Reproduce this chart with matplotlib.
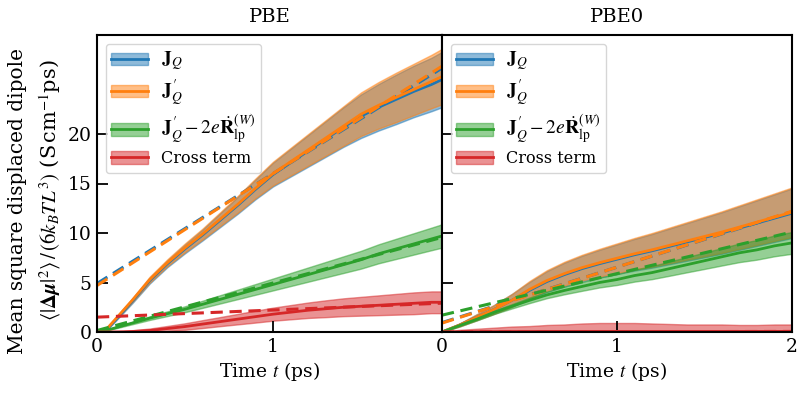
import matplotlib
matplotlib.use("Agg")
import matplotlib.pyplot as plt
from matplotlib.lines import Line2D
from matplotlib.patches import Patch
from matplotlib.legend_handler import HandlerTuple
import numpy as np

plt.rcParams['font.family'] = ['DejaVu Serif']
plt.rcParams['mathtext.fontset'] = 'stix'

# ---------------- PBE (left) ----------------
t_pbe = [0, 0.05, 0.1, 0.15, 0.2, 0.3, 0.4, 0.5, 0.6, 0.7, 0.8, 0.9, 1.0,
         1.1, 1.2, 1.3, 1.4, 1.5, 1.6, 1.7, 1.8, 1.9, 1.96]
jq_pbe = [0, 0.15, 1.1, 2.1, 3.1, 5.2, 6.9, 8.4, 9.8, 11.3, 12.8, 14.4, 15.9,
          17.1, 18.3, 19.5, 20.7, 21.8, 22.7, 23.5, 24.3, 25.0, 25.5]
jqp_pbe = [0, 0.2, 1.2, 2.2, 3.2, 5.3, 7.0, 8.5, 9.9, 11.4, 12.9, 14.5, 16.0,
           17.2, 18.4, 19.6, 20.8, 22.0, 22.9, 23.7, 24.5, 25.3, 25.8]
jq_band_pbe = [0, 0.05, 0.1, 0.15, 0.2, 0.3, 0.35, 0.45, 0.55, 0.7, 0.85, 1.0, 1.2,
               1.4, 1.6, 1.8, 2.0, 2.2, 2.35, 2.5, 2.6, 2.7, 2.8]
gr_pbe = [0, 0.15, 0.4, 0.65, 0.9, 1.4, 1.85, 2.3, 2.8, 3.3, 3.8, 4.3, 4.8,
          5.3, 5.8, 6.3, 6.8, 7.3, 7.9, 8.4, 8.9, 9.4, 9.7]
gr_band_pbe = [0, 0.03, 0.06, 0.09, 0.12, 0.18, 0.24, 0.3, 0.36, 0.42, 0.48, 0.54, 0.6,
               0.66, 0.72, 0.78, 0.84, 0.9, 0.96, 1.02, 1.08, 1.14, 1.18]
cr_pbe = [0, 0.0, 0.01, 0.02, 0.05, 0.15, 0.35, 0.55, 0.8, 1.05, 1.3, 1.55, 1.8,
          2.0, 2.2, 2.35, 2.5, 2.6, 2.7, 2.8, 2.9, 3.0, 3.0]
cr_band_pbe = [0, 0.03, 0.06, 0.1, 0.13, 0.2, 0.26, 0.33, 0.4, 0.46, 0.53, 0.6, 0.66,
               0.72, 0.78, 0.85, 0.9, 0.95, 1.0, 1.05, 1.1, 1.1, 1.1]
# linear fits: (intercept, slope)
fit_pbe = {'jq': (4.9, 11.1), 'jqp': (4.7, 11.3), 'gr': (0.15, 4.8), 'cr': (1.5, 0.72)}

# ---------------- PBE0 (right) ----------------
t_pbe0 = [0, 0.1, 0.2, 0.3, 0.4, 0.5, 0.6, 0.7, 0.8, 0.9, 1.0,
          1.1, 1.2, 1.3, 1.4, 1.5, 1.6, 1.7, 1.8, 1.9, 2.0]
jq_pbe0 = [0, 0.7, 1.5, 2.3, 3.2, 4.2, 5.1, 5.8, 6.4, 6.9, 7.35,
           7.8, 8.2, 8.65, 9.1, 9.55, 10.0, 10.5, 11.0, 11.5, 12.0]
jqp_pbe0 = [0, 0.7, 1.5, 2.3, 3.2, 4.3, 5.2, 5.9, 6.5, 7.0, 7.45,
            7.9, 8.3, 8.75, 9.2, 9.65, 10.1, 10.6, 11.1, 11.6, 12.1]
jq_band_pbe0 = [0, 0.15, 0.3, 0.45, 0.65, 0.85, 1.05, 1.2, 1.3, 1.4, 1.5,
                1.6, 1.7, 1.8, 1.9, 2.0, 2.1, 2.2, 2.3, 2.4, 2.5]
gr_pbe0 = [0, 0.65, 1.3, 2.0, 2.6, 3.2, 3.75, 4.2, 4.6, 5.0, 5.3,
           5.7, 6.0, 6.4, 6.8, 7.2, 7.6, 8.0, 8.3, 8.7, 9.0]
gr_band_pbe0 = [0, 0.06, 0.12, 0.17, 0.22, 0.28, 0.33, 0.39, 0.44, 0.5, 0.55,
                0.61, 0.66, 0.72, 0.77, 0.83, 0.88, 0.94, 0.99, 1.05, 1.1]
cr_pbe0 = [0, 0.02, 0.03, 0.04, 0.05, 0.05, 0.06, 0.06, 0.06, 0.06, 0.06,
           0.06, 0.06, 0.06, 0.06, 0.06, 0.06, 0.06, 0.06, 0.06, 0.06]
cr_band_pbe0 = [0, 0.2, 0.3, 0.4, 0.5, 0.55, 0.65, 0.7, 0.8, 0.85, 0.85,
                0.85, 0.8, 0.75, 0.7, 0.7, 0.7, 0.65, 0.65, 0.7, 0.7]
fit_pbe0 = {'jq': (0.95, 5.6), 'jqp': (0.9, 5.65), 'gr': (1.7, 4.2), 'cr': (0.0, 0.03)}

labels = [r'$\mathbf{J}_Q$', r"$\mathbf{J}^{\,\prime}_Q$",
          r"$\mathbf{J}^{\,\prime}_Q - 2e\dot{\mathbf{R}}_{\mathrm{lp}}^{(W)}$", 'Cross term']
colors = ['#1f77b4', '#ff7f0e', '#2ca02c', '#d62728']

W, H = 800, 396
fig = plt.figure(figsize=(W / 100, H / 100), dpi=100)
ax1 = fig.add_axes([97 / W, 1 - 332 / H, 345 / W, 297 / H])
ax2 = fig.add_axes([442 / W, 1 - 332 / H, 350 / W, 297 / H], sharey=ax1)


def draw_panel(ax, t, series, fits, xmax, title):
    t = np.asarray(t)
    for (key, y, band), c in zip(series, colors):
        y = np.asarray(y)
        b = np.asarray(band)
        ax.fill_between(t, y - b, y + b, color=c, alpha=0.5, lw=1.0)
        ax.plot(t, y, color=c, lw=2.0)
        a0, a1 = fits[key]
        tt = np.array([0, xmax])
        ax.plot(tt, a0 + a1 * tt, color=c, lw=2.2, ls='--', dashes=(4, 2.2))
    ax.set_xlim(0, xmax)
    ax.set_ylim(0, 30)
    ax.set_title(title, fontsize=14, pad=9)
    ax.set_xlabel(r'Time $t$ (ps)', fontsize=13.5, labelpad=3)
    ax.tick_params(direction='in', length=8, width=1.3, labelsize=13.5, pad=4)
    for s in ax.spines.values():
        s.set_linewidth(1.5)
    handles = [(Patch(facecolor=c, edgecolor=c, alpha=0.5), Line2D([], [], color=c, lw=2.0))
               for c in colors]
    leg = ax.legend(handles, labels, loc='upper left', fontsize=11.5,
                    handler_map={tuple: HandlerTuple(ndivide=1)},
                    borderaxespad=0.55, labelspacing=0.3, handlelength=2.3,
                    handleheight=0.85, handletextpad=0.8, borderpad=0.35)
    for txt in leg.get_texts():
        if '$' in txt.get_text():
            txt.set_fontsize(14)
    leg.get_frame().set_linewidth(1.0)


draw_panel(ax1, t_pbe,
           [('jq', jq_pbe, jq_band_pbe), ('jqp', jqp_pbe, jq_band_pbe),
            ('gr', gr_pbe, gr_band_pbe), ('cr', cr_pbe, cr_band_pbe)],
           fit_pbe, 1.96, 'PBE')
draw_panel(ax2, t_pbe0,
           [('jq', jq_pbe0, jq_band_pbe0), ('jqp', jqp_pbe0, jq_band_pbe0),
            ('gr', gr_pbe0, gr_band_pbe0), ('cr', cr_pbe0, cr_band_pbe0)],
           fit_pbe0, 2.0, 'PBE0')

ax1.set_xticks([0, 1])
ax2.set_xticks([0, 1, 2])
ax1.set_yticks([0, 5, 10, 15, 20])
plt.setp(ax2.get_yticklabels(), visible=False)

fig.text(18 / W, 1 - 201 / H, 'Mean square displaced dipole', rotation=90,
         ha='center', va='center', fontsize=14.5)
fig.text(50 / W, 1 - 190 / H,
         r'$\langle|\mathbf{\Delta}\boldsymbol{\mu}|^2\rangle\,/\,(6k_BTL^3)$ (S$\,$cm$^{-1}$ps)',
         rotation=90, ha='center', va='center', fontsize=15)

fig.savefig('out.png', dpi=100)
